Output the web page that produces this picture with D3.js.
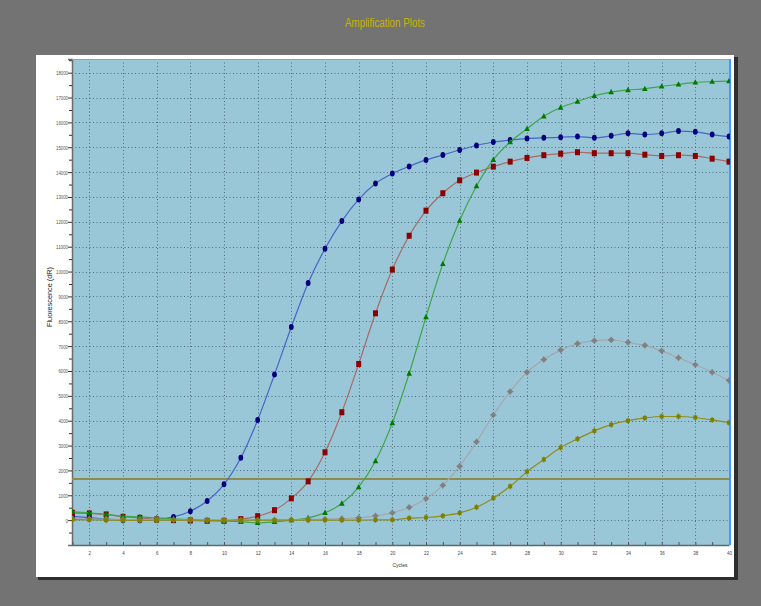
<!DOCTYPE html>
<html><head><meta charset="utf-8">
<script src="https://cdn.jsdelivr.net/npm/d3@7/dist/d3.min.js"></script>
<style>html,body{margin:0;padding:0;background:#737373;}svg{display:block;}</style>
</head><body>
<script>
const cycles = d3.range(1, 41);
const blueVals = [150,100,40,0,0,20,130,360,770,1440,2510,4030,5860,7770,9540,10920,12030,12900,13540,13940,14230,14490,14690,14890,15070,15210,15290,15350,15380,15400,15430,15380,15460,15560,15510,15560,15650,15620,15510,15430];
const redVals = [295,270,230,133,93,28,0,-13,-27,-27,40,160,400,875,1560,2730,4340,6280,8320,10080,11440,12450,13150,13670,13980,14220,14420,14570,14680,14740,14800,14760,14760,14760,14700,14650,14680,14650,14540,14420];
const greenVals = [335,295,230,160,133,93,53,27,0,-27,-67,-107,-67,0,93,295,670,1330,2380,3910,5900,8170,10310,12050,13440,14500,15210,15740,16250,16600,16840,17070,17220,17300,17350,17450,17530,17610,17640,17660];
const grayVals = [60,50,40,30,20,20,10,10,0,0,0,0,10,20,30,40,60,93,173,295,515,860,1400,2170,3150,4230,5170,5950,6460,6840,7100,7220,7250,7150,7030,6810,6530,6250,5950,5620];
const oliveVals = [20,10,0,-10,-10,0,0,0,-10,-10,0,0,0,0,0,0,0,0,10,13,80,107,173,290,520,885,1360,1950,2440,2920,3270,3590,3840,4000,4110,4170,4170,4130,4030,3920];
const threshold = 1650;
const xTickLabels = d3.range(2, 41, 2);
const yTickLabels = d3.range(0, 18001, 1000);
const title = "Amplification Plots";
const xTitle = "Cycles";
const yTitle = "Fluorescence (dR)";

const W = 761, H = 606;
const FONT = "'Liberation Sans','Arial',sans-serif";
const svg = d3.select("body").append("svg").attr("width", W).attr("height", H);
svg.append("rect").attr("width", W).attr("height", H).attr("fill", "#737373");

// title
svg.append("text").attr("x", 385).attr("y", 27).attr("text-anchor", "middle")
  .attr("font-family", FONT).attr("font-size", 12).attr("fill", "#c8b400")
  .attr("textLength", 80).attr("lengthAdjust", "spacingAndGlyphs").text(title);

// white panel with shadow
svg.append("rect").attr("x", 38).attr("y", 57).attr("width", 700).attr("height", 523).attr("fill", "#2e2e2e");
svg.append("rect").attr("x", 36).attr("y", 55).attr("width", 698).attr("height", 522).attr("fill", "#ffffff");

const L = 72, R = 730, T = 59, B = 545;
const x = d3.scaleLinear().domain([1, 40]).range([72.5, 729]);
const y = d3.scaleLinear().domain([-1000, 18550]).range([B, T]);

svg.append("rect").attr("x", L).attr("y", T).attr("width", R - L).attr("height", B - T).attr("fill", "#9ac7d7");

svg.append("defs").append("clipPath").attr("id", "clip")
  .append("rect").attr("x", L).attr("y", T).attr("width", R - L).attr("height", B - T);

// grid
const grid = svg.append("g").attr("stroke", "#4e6f80").attr("stroke-width", 1).attr("stroke-dasharray", "1,2.5");
grid.selectAll("line.h").data(yTickLabels).join("line")
  .attr("x1", L).attr("x2", R).attr("y1", d => Math.round(y(d)) + 0.5).attr("y2", d => Math.round(y(d)) + 0.5);
grid.selectAll("line.v").data(xTickLabels.filter(d => d < 40)).join("line").attr("class", "v")
  .attr("y1", T).attr("y2", B).attr("x1", d => Math.round(x(d)) + 0.5).attr("x2", d => Math.round(x(d)) + 0.5);

// axes
const yAxis = d3.axisLeft(y).tickValues(yTickLabels).tickSize(4).tickFormat(d3.format("d"));
const gy = svg.append("g").attr("transform", `translate(${L},0)`).call(yAxis);
gy.select(".domain").attr("stroke", "#6a6a6a").attr("stroke-width", 1.5);
gy.selectAll(".tick line").attr("stroke", "#333");
gy.selectAll(".tick text").attr("font-family", FONT)
  .attr("font-size", 6).attr("fill", "#555").attr("x", -4)
  .attr("textLength", d => String(d).length * 2.4).attr("lengthAdjust", "spacingAndGlyphs");
const gyMinor = svg.append("g").attr("transform", `translate(${L},0)`)
  .call(d3.axisLeft(y).tickValues(d3.range(-500, 18550, 1000)).tickSize(3).tickFormat(""));
gyMinor.select(".domain").remove();
gyMinor.selectAll(".tick line").attr("stroke", "#333");

const xAxis = d3.axisBottom(x).tickValues(xTickLabels).tickSize(0).tickPadding(6);
const gx = svg.append("g").attr("transform", `translate(0,${B})`).call(xAxis);
gx.select(".domain").attr("stroke", "#5a6a70").attr("stroke-width", 1.5);
gx.selectAll(".tick text").attr("font-family", FONT)
  .attr("font-size", 6).attr("fill", "#444")
  .attr("textLength", d => String(d).length * 2.5).attr("lengthAdjust", "spacingAndGlyphs");
const gxMinor = svg.append("g").attr("transform", `translate(0,${B})`)
  .call(d3.axisTop(x).tickValues(cycles).tickSize(3).tickFormat(""));
gxMinor.select(".domain").remove();
gxMinor.selectAll(".tick line").attr("stroke", "#555");

svg.append("text").attr("x", 400).attr("y", 567).attr("text-anchor", "middle")
  .attr("font-family", FONT).attr("font-size", 6).attr("fill", "#333")
  .attr("textLength", 15).attr("lengthAdjust", "spacingAndGlyphs").text(xTitle);
svg.append("text").attr("transform", "translate(52,297) rotate(-90)").attr("text-anchor", "middle")
  .attr("font-family", FONT).attr("font-size", 6.5).attr("fill", "#222")
  .attr("textLength", 60).attr("lengthAdjust", "spacingAndGlyphs").text(yTitle);

// right edge blue line
svg.append("line").attr("x1", R).attr("x2", R).attr("y1", T).attr("y2", B).attr("stroke", "#3c9cff").attr("stroke-width", 2);
svg.append("line").attr("x1", L).attr("x2", R).attr("y1", T + 0.5).attr("y2", T + 0.5).attr("stroke", "#7fa9b8").attr("stroke-width", 1);

// threshold
svg.append("line").attr("x1", L).attr("x2", R).attr("y1", y(threshold)).attr("y2", y(threshold))
  .attr("stroke", "#8e8c48").attr("stroke-width", 2);

const plot = svg.append("g").attr("clip-path", "url(#clip)");
const series = [
  {vals: blueVals, line: "#4466c8", mark: "#00007a", shape: "circle"},
  {vals: redVals, line: "#a86a6a", mark: "#8b0000", shape: "square"},
  {vals: greenVals, line: "#3fa64a", mark: "#007a00", shape: "triangle"},
  {vals: grayVals, line: "#a4a8ac", mark: "#808080", shape: "cross"},
  {vals: oliveVals, line: "#8e8e1a", mark: "#7f7f00", shape: "small"}
];
const lineGen = d3.line().x((d, i) => x(cycles[i])).y(d => y(d)).curve(d3.curveMonotoneX);
series.forEach(s => {
  plot.append("path").attr("d", lineGen(s.vals)).attr("fill", "none").attr("stroke", s.line).attr("stroke-width", 1.2);
  const g = plot.append("g");
  s.vals.forEach((v, i) => {
    const cx = x(cycles[i]), cy = y(v);
    if (s.shape === "circle") {
      g.append("ellipse").attr("cx", cx).attr("cy", cy).attr("rx", 2.4).attr("ry", 3).attr("fill", s.mark);
    } else if (s.shape === "square") {
      g.append("rect").attr("x", cx - 2.5).attr("y", cy - 3).attr("width", 5).attr("height", 6).attr("fill", s.mark);
    } else if (s.shape === "triangle") {
      g.append("path").attr("d", `M${cx},${cy - 3.2}L${cx + 2.8},${cy + 2.2}L${cx - 2.8},${cy + 2.2}Z`).attr("fill", s.mark);
    } else if (s.shape === "cross") {
      g.append("circle").attr("cx", cx).attr("cy", cy).attr("r", 2.3).attr("fill", s.mark);
      g.append("path").attr("d", `M${cx - 3.2},${cy}H${cx + 3.2}M${cx},${cy - 3.2}V${cy + 3.2}`).attr("stroke", s.mark).attr("stroke-width", 1.2);
    } else {
      g.append("rect").attr("x", cx - 2).attr("y", cy - 2).attr("width", 4).attr("height", 4).attr("fill", s.mark);
      g.append("path").attr("d", `M${cx},${cy - 3}V${cy + 3}`).attr("stroke", s.mark).attr("stroke-width", 1);
    }
  });
});
</script>
</body></html>
